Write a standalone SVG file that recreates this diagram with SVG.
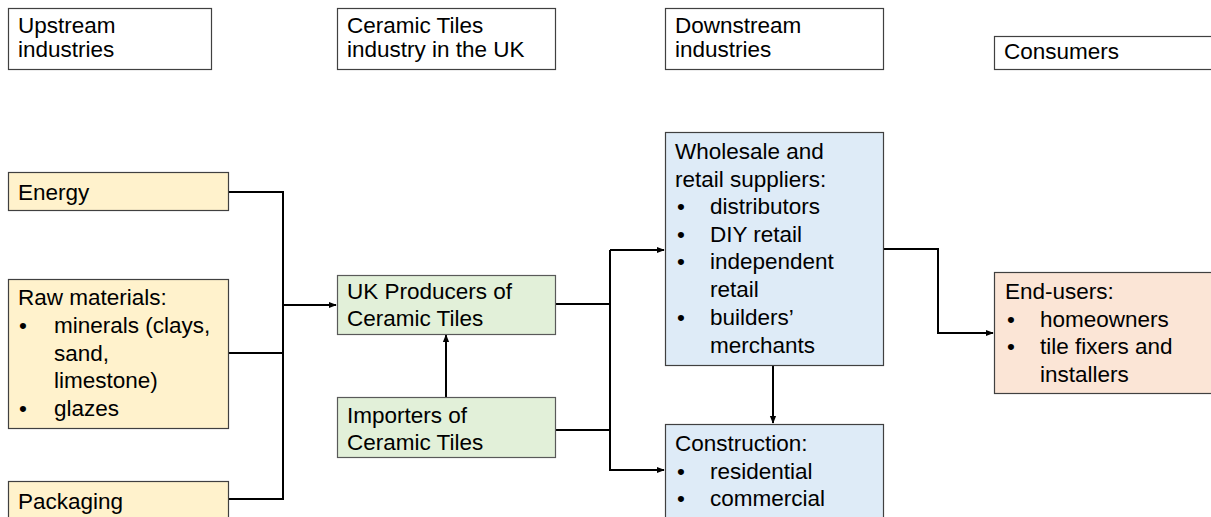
<svg xmlns="http://www.w3.org/2000/svg" width="1211" height="517" viewBox="0 0 1211 517">
<defs>
<style>
text{font-family:"Liberation Sans",Arial,sans-serif;font-size:22.5px;fill:#000}
.hdr{fill:#fff;stroke:#404040;stroke-width:1.2}
.up{fill:#FFF2CC;stroke:#404040;stroke-width:1.2}
.gr{fill:#E2F0D9;stroke:#595959;stroke-width:1.2}
.bl{fill:#DEEBF7;stroke:#404040;stroke-width:1.2}
.pk{fill:#FBE5D6;stroke:#404040;stroke-width:1.2}
.c{fill:none;stroke:#000;stroke-width:2}
</style>
<marker id="ah" viewBox="0 0 10 10" refX="9" refY="5" markerWidth="4" markerHeight="4" orient="auto" markerUnits="strokeWidth">
<path d="M0,1 L10,5 L0,9 z" fill="#000"/>
</marker>
</defs>
<rect width="1211" height="517" fill="#fff"/>
<g id="h-upstream"><rect class="hdr" x="8.5" y="8.5" width="203" height="61"/><text x="18" y="33">Upstream</text><text x="18" y="57">industries</text></g>
<g id="h-ceramic"><rect class="hdr" x="337.5" y="8.5" width="218" height="61"/><text x="347" y="33">Ceramic Tiles</text><text x="347" y="57">industry in the UK</text></g>
<g id="h-downstream"><rect class="hdr" x="665.5" y="8.5" width="218" height="61"/><text x="675" y="33">Downstream</text><text x="675" y="57">industries</text></g>
<g id="h-consumers"><rect class="hdr" x="994.5" y="36.5" width="218" height="33"/><text x="1004" y="59">Consumers</text></g>

<g id="connectors">
<polyline class="c" points="228,192 283,192 283,499 228,499"/>
<line class="c" x1="228" y1="353" x2="283" y2="353"/>
<line class="c" x1="283" y1="305" x2="336" y2="305" marker-end="url(#ah)"/>
<line class="c" x1="446" y1="397" x2="446" y2="335" marker-end="url(#ah)"/>
<polyline class="c" points="555,304 610,304"/>
<polyline class="c" points="555,430 610,430"/>
<polyline class="c" points="610,250 610,470 664,470" marker-end="url(#ah)"/>
<line class="c" x1="610" y1="250" x2="664" y2="250" marker-end="url(#ah)"/>
<line class="c" x1="773" y1="365" x2="773" y2="423" marker-end="url(#ah)"/>
<polyline class="c" points="883,249 938,249 938,333 993,333" marker-end="url(#ah)"/>
</g>

<g id="n-energy"><rect class="up" x="8.5" y="172.5" width="220" height="38"/><text x="18" y="200">Energy</text></g>
<g id="n-raw"><rect class="up" x="8.5" y="279.5" width="220" height="149"/>
<text x="18" y="305">Raw materials:</text>
<text x="19" y="333">•</text><text x="54" y="333">minerals (clays,</text>
<text x="54" y="361">sand,</text>
<text x="54" y="388">limestone)</text>
<text x="19" y="416">•</text><text x="54" y="416">glazes</text></g>
<g id="n-packaging"><rect class="up" x="8.5" y="481.5" width="220" height="40"/><text x="18" y="509">Packaging</text></g>

<g id="n-producers"><rect class="gr" x="337.5" y="275.5" width="218" height="59"/><text x="347" y="299">UK Producers of</text><text x="347" y="326">Ceramic Tiles</text></g>
<g id="n-importers"><rect class="gr" x="337.5" y="397.5" width="218" height="60"/><text x="347" y="423">Importers of</text><text x="347" y="450">Ceramic Tiles</text></g>

<g id="n-wholesale"><rect class="bl" x="665.5" y="132.5" width="218" height="233"/>
<text x="675" y="159">Wholesale and</text>
<text x="675" y="187">retail suppliers:</text>
<text x="677" y="214">•</text><text x="710" y="214">distributors</text>
<text x="677" y="242">•</text><text x="710" y="242">DIY retail</text>
<text x="677" y="269">•</text><text x="710" y="269">independent</text>
<text x="710" y="297">retail</text>
<text x="677" y="325">•</text><text x="710" y="325">builders’</text>
<text x="710" y="353">merchants</text></g>
<g id="n-construction"><rect class="bl" x="665.5" y="424.5" width="218" height="100"/>
<text x="675" y="451">Construction:</text>
<text x="677" y="479">•</text><text x="710" y="479">residential</text>
<text x="677" y="506">•</text><text x="710" y="506">commercial</text></g>

<g id="n-endusers"><rect class="pk" x="994.5" y="272.5" width="222" height="121"/>
<text x="1005" y="299">End-users:</text>
<text x="1007" y="327">•</text><text x="1040" y="327">homeowners</text>
<text x="1007" y="354">•</text><text x="1040" y="354">tile fixers and</text>
<text x="1040" y="382">installers</text></g>
</svg>
